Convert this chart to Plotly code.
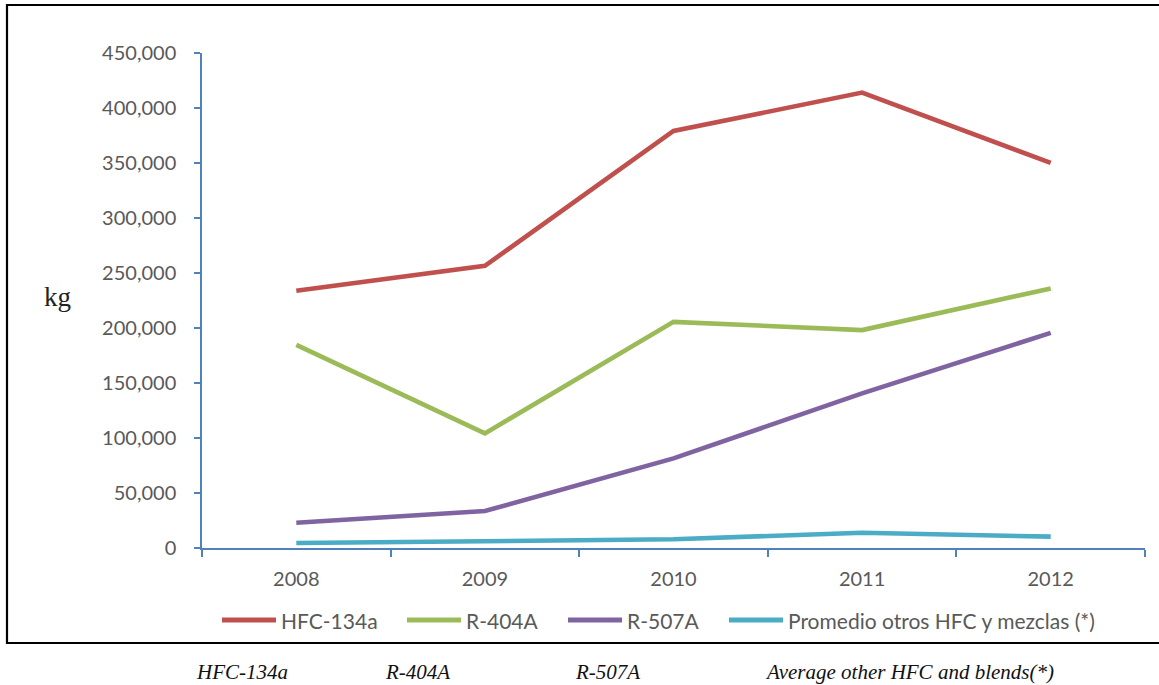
import plotly.graph_objects as go

# Refrigerant consumption by year (kg)
years = ["2008", "2009", "2010", "2011", "2012"]
series_names = ["HFC-134a", "R-404A", "R-507A", "Promedio otros HFC y mezclas (*)"]
hfc134a = [233800, 256500, 379100, 414000, 350100]
r404a = [184700, 104200, 205600, 198100, 235900]
r507a = [23000, 33600, 81500, 140500, 195600]
promedio_otros = [4500, 6100, 7900, 13900, 10300]
english_names = ["HFC-134a", "R-404A", "R-507A", "Average other HFC and blends(*)"]
y_ticks = [0, 50000, 100000, 150000, 200000, 250000, 300000, 350000, 400000, 450000]

colors = ["#C0504D", "#9BBB59", "#8064A2", "#4BACC6"]
axis_color = "#4F81BD"
text_color = "#595959"

W, H = 1159, 685
L, R, T, B = 202, 1145, 53, 548  # plot area in pixels


def px_x(p):
    return (p - L) / (R - L)


def px_y(p):
    return (B - p) / (B - T)


fig = go.Figure()
for name, vals, col in zip(series_names, [hfc134a, r404a, r507a, promedio_otros], colors):
    fig.add_trace(go.Scatter(
        x=years, y=vals, name=name, mode="lines",
        line=dict(color=col, width=4.6),
        showlegend=False,
    ))

shapes = []
annotations = []

# Outer frame around the chart
shapes.append(dict(type="rect", xref="paper", yref="paper",
                   x0=px_x(7), x1=px_x(1175), y0=px_y(643), y1=px_y(5),
                   line=dict(color="black", width=2.2), fillcolor="rgba(0,0,0,0)",
                   layer="below"))

# Legend row
legend_x = [222, 407, 568, 729]
for name, col, lx in zip(series_names, colors, legend_x):
    shapes.append(dict(type="line", xref="paper", yref="paper",
                       x0=px_x(lx), x1=px_x(lx + 54), y0=px_y(620), y1=px_y(620),
                       line=dict(color=col, width=5)))
    annotations.append(dict(xref="paper", yref="paper", x=px_x(lx + 57), y=px_y(620),
                            text=name, showarrow=False, xanchor="left", yanchor="middle",
                            font=dict(family="Lato", size=21, color=text_color)))

# Axis unit label
annotations.append(dict(xref="paper", yref="paper", x=px_x(57), y=px_y(297),
                        text="kg", showarrow=False, xanchor="center", yanchor="middle",
                        font=dict(family="Liberation Serif", size=27, color="#222222")))

# English captions under the frame
caption_x = [242, 417, 607, 909]
for txt, cx in zip(english_names, caption_x):
    annotations.append(dict(xref="paper", yref="paper", x=px_x(cx), y=px_y(672),
                            text="<i>" + txt + "</i>", showarrow=False,
                            xanchor="center", yanchor="middle",
                            font=dict(family="Liberation Serif", size=21, color="#111111")))

fig.update_layout(
    width=W, height=H,
    margin=dict(l=L, r=W - R, t=T, b=H - B),
    paper_bgcolor="white", plot_bgcolor="white",
    showlegend=False,
    shapes=shapes,
    annotations=annotations,
    xaxis=dict(
        type="category", tickson="boundaries", ticks="outside", ticklen=7,
        tickcolor=axis_color, tickwidth=1.5,
        showline=True, linecolor=axis_color, linewidth=1.5,
        showgrid=False, zeroline=False,
        tickfont=dict(family="Lato", size=20, color=text_color),
        ticklabelstandoff=12,
        range=[-0.5, 4.5],
    ),
    yaxis=dict(
        range=[0, 450000], tickvals=y_ticks, tickformat=",d",
        ticks="outside", ticklen=6, tickcolor=axis_color, tickwidth=1.5,
        showline=True, linecolor=axis_color, linewidth=1.5,
        showgrid=False, zeroline=False,
        tickfont=dict(family="Lato", size=20, color=text_color),
        ticklabelstandoff=14,
    ),
)

fig.write_html("out.html")
